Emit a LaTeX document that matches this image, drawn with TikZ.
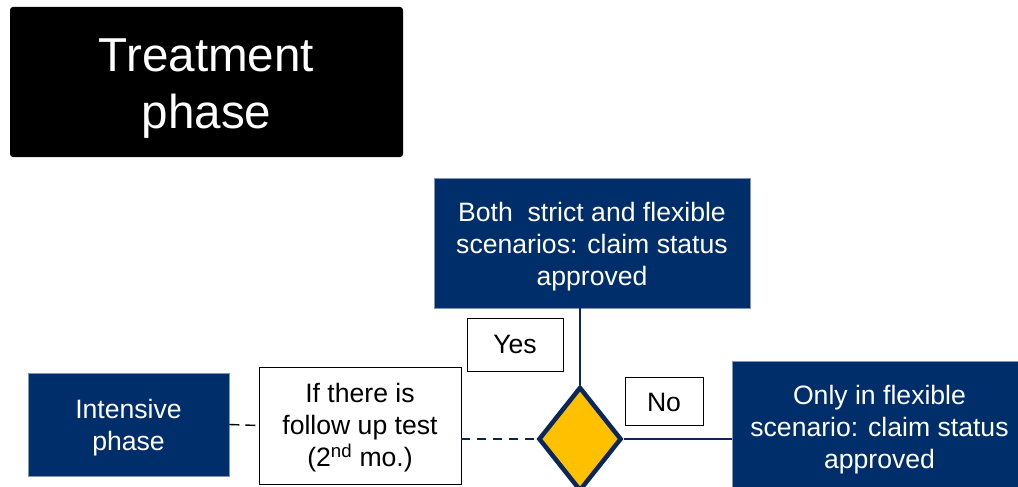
\documentclass[tikz,border=0pt]{standalone}
\usepackage{fontspec}
\setmainfont{Liberation Sans}
\usetikzlibrary{shapes.geometric}
\definecolor{navy}{RGB}{0,46,106}
\definecolor{navyline}{RGB}{10,38,90}
\definecolor{bluebord}{RGB}{130,150,180}
\definecolor{gold}{RGB}{255,192,0}
\newcommand\boxtext[2]{\raisebox{#1}[\height][\depth]{\begin{tabular}{@{}c@{}}#2\end{tabular}}}
\tikzset{
  bluebox/.style={draw=bluebord, line width=0.8pt, fill=navy, text=white, inner sep=0pt,
    font=\fontsize{26.6}{32}\selectfont},
  whitebox/.style={draw=black, line width=0.9pt, fill=white, text=black, inner sep=0pt,
    font=\fontsize{26.6}{32}\selectfont},
  titlebox/.style={fill=black, text=white, rounded corners=3pt, inner sep=0pt,
    font=\fontsize{47.6}{57}\selectfont},
  decision/.style={diamond, draw=navyline, line width=4.5pt, fill=gold, inner sep=0pt, shape aspect=0.8},
  solidlink/.style={draw=navyline, line width=2pt},
  navydash/.style={draw=navyline, line width=2pt, dash pattern=on 9pt off 7pt},
  blackdash/.style={draw=black, line width=1.4pt, dash pattern=on 10pt off 6pt}
}
\begin{document}
\begin{tikzpicture}[x=1pt,y=-1pt]
\useasboundingbox (0,0) rectangle (1018,487);
\node[titlebox, minimum width=393pt, minimum height=150pt] (title) at (206.5,82) {\boxtext{-7pt}{Treatment\\phase}};
\node[bluebox, minimum width=316pt, minimum height=130pt] (top) at (592,243) {\boxtext{-4pt}{Both\ \ strict and flexible\\scenarios: claim status\\approved}};
\node[bluebox, minimum width=295pt, minimum height=132pt] (right) at (879.5,427) {\boxtext{-3pt}{Only in flexible\\scenario: claim status\\approved}};
\node[bluebox, minimum width=201pt, minimum height=103pt] (int) at (128.5,424.5) {\boxtext{-4pt}{Intensive\\phase}};
\node[whitebox, minimum width=202pt, minimum height=117pt] (follow) at (360,425.5) {\boxtext{-3pt}{If there is\\follow up test\\(2\textsuperscript{nd} mo.)}};
\node[whitebox, minimum width=96pt, minimum height=53pt] (yes) at (515,344.5) {\boxtext{-3pt}{Yes}};
\node[whitebox, minimum width=78pt, minimum height=48pt] (no) at (664,401) {\boxtext{-4pt}{No}};
\node[decision, minimum width=83pt, minimum height=104pt] (dia) at (580,439) {};
\draw[solidlink] (top.south -| dia.north) -- (dia.north);
\draw[solidlink] (dia.east) -- (right.west |- dia.east);
\draw[navydash] (follow.east |- dia.west) -- (dia.west);
\draw[blackdash] (int.east) -- (follow.west);
\end{tikzpicture}
\end{document}
